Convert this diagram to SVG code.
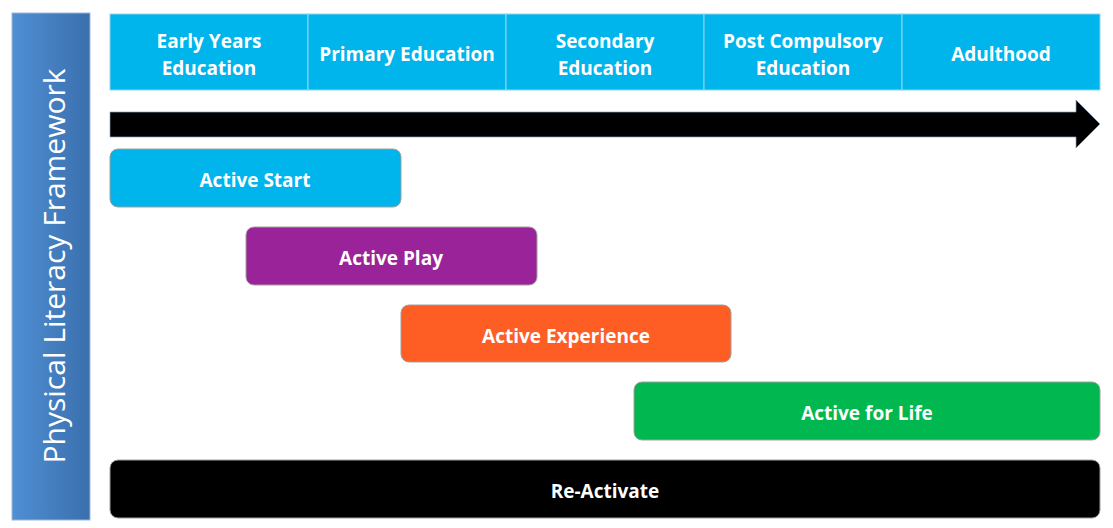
<svg xmlns="http://www.w3.org/2000/svg" width="1113" height="528" viewBox="0 0 1113 528">
<defs>
<linearGradient id="g" x1="0" x2="1" y1="0" y2="0"><stop offset="0" stop-color="#4f8fd3"/><stop offset="1" stop-color="#3a6fae"/></linearGradient>
<style>
text{font-family:"Open Sans","Liberation Sans",sans-serif;font-weight:bold;fill:#fff;text-anchor:middle;font-size:19px}
.h{fill:#00b4ec;stroke:#8fd6f2;stroke-width:1}
.b{stroke:#a0a0a0;stroke-width:1}
</style>
</defs>
<g id="sidebar"><rect x="12" y="13" width="78" height="507" fill="url(#g)" stroke="#9fb6d6"/>
<text transform="translate(65,266) rotate(-90)" style="font-weight:normal;font-size:30px">Physical Literacy Framework</text></g>
<g id="header">
<rect class="h" x="110" y="14" width="198" height="76"/><text x="209" y="48">Early Years</text><text x="209" y="75">Education</text>
<rect class="h" x="308" y="14" width="198" height="76"/><text x="407" y="61">Primary Education</text>
<rect class="h" x="506" y="14" width="198" height="76"/><text x="605" y="48">Secondary</text><text x="605" y="75">Education</text>
<rect class="h" x="704" y="14" width="198" height="76"/><text x="803" y="48">Post Compulsory</text><text x="803" y="75">Education</text>
<rect class="h" x="902" y="14" width="198" height="76"/><text x="1001" y="61">Adulthood</text>
</g>
<g id="connectors"><polygon points="110,112 1076,112 1076,100 1100,124 1076,148 1076,137 110,137" fill="#000" stroke="#8aa0c0" stroke-width="0.7"/></g>
<g id="active-start"><rect class="b" x="110" y="149" width="291" height="58" rx="8" fill="#00b4ec"/><text x="255" y="187">Active Start</text></g>
<g id="active-play"><rect class="b" x="246" y="227" width="291" height="58" rx="8" fill="#9b2399"/><text x="391" y="265">Active Play</text></g>
<g id="active-experience"><rect class="b" x="401" y="305" width="330" height="57" rx="8" fill="#fe5e23"/><text x="566" y="343">Active Experience</text></g>
<g id="active-for-life"><rect class="b" x="634" y="382" width="466" height="58" rx="8" fill="#00b84f"/><text x="867" y="420">Active for Life</text></g>
<g id="re-activate"><rect class="b" x="110" y="460" width="990" height="58" rx="8" fill="#000"/><text x="605" y="498">Re-Activate</text></g>
</svg>
